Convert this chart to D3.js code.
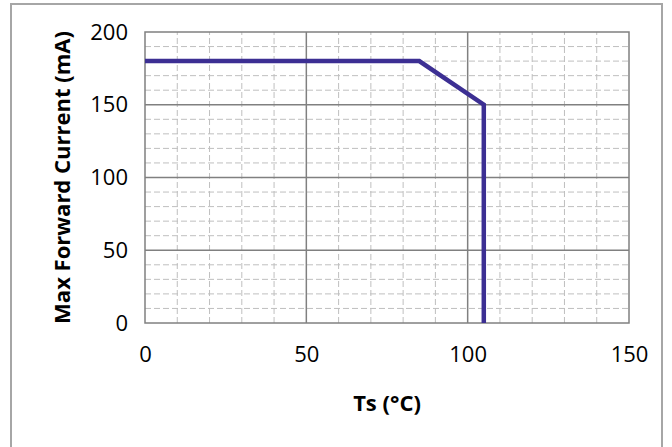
<!DOCTYPE html>
<html>
<head>
<meta charset="utf-8">
<script src="https://cdn.jsdelivr.net/npm/d3@7"></script>
<style>
  body { margin: 0; background: #fff; }
  svg text { font-family: "Open Sans", "Noto Sans", sans-serif; fill: #000; }
</style>
</head>
<body>
<script>
// derating curve: temperature vs max current
const tempValues = [0, 85, 105, 105];
const currentValues = [180, 180, 150, 0];
const xTickValues = [0, 50, 100, 150];
const yTickValues = [0, 50, 100, 150, 200];

const width = 672;
const height = 447;
const margin = {left: 145, right: 43, top: 32, bottom: 124};

let svg = d3.select("body").append("svg")
    .attr("width", width)
    .attr("height", height);

// outer chart border (bottom runs off the picture)
svg.append("rect")
    .attr("x", 11).attr("y", 4)
    .attr("width", 651).attr("height", 460)
    .attr("fill", "none")
    .attr("stroke", "#a6a6a6")
    .attr("stroke-width", 2);

const x = d3.scaleLinear().domain([0, 150]).range([margin.left, width - margin.right]);
const y = d3.scaleLinear().domain([0, 200]).range([height - margin.bottom, margin.top]);

// minor dashed grid
const minorX = d3.range(10, 150, 10).filter(d => d % 50 !== 0);
const minorY = d3.range(10, 200, 10).filter(d => d % 50 !== 0);

svg.append("g").selectAll("line")
    .data(minorX).enter().append("line")
    .attr("x1", d => x(d)).attr("x2", d => x(d))
    .attr("y1", y(0)).attr("y2", y(200))
    .attr("stroke", "#bfbfbf").attr("stroke-dasharray", "6,3");

svg.append("g").selectAll("line")
    .data(minorY).enter().append("line")
    .attr("x1", x(0)).attr("x2", x(150))
    .attr("y1", d => y(d)).attr("y2", d => y(d))
    .attr("stroke", "#bfbfbf").attr("stroke-dasharray", "6,3");

// major grid
svg.append("g").selectAll("line")
    .data(xTickValues.slice(1, -1)).enter().append("line")
    .attr("x1", d => x(d)).attr("x2", d => x(d))
    .attr("y1", y(0)).attr("y2", y(200))
    .attr("stroke", "#808080").attr("stroke-width", 1.5);

svg.append("g").selectAll("line")
    .data(yTickValues.slice(1, -1)).enter().append("line")
    .attr("x1", x(0)).attr("x2", x(150))
    .attr("y1", d => y(d)).attr("y2", d => y(d))
    .attr("stroke", "#808080").attr("stroke-width", 1.5);

svg.append("rect")
    .attr("x", x(0)).attr("y", y(200))
    .attr("width", x(150) - x(0)).attr("height", y(0) - y(200))
    .attr("fill", "none").attr("stroke", "#808080").attr("stroke-width", 1.5);

// axes, labels only
const xAxis = svg.append("g")
    .attr("transform", `translate(0,${y(0)})`)
    .call(d3.axisBottom(x).tickValues(xTickValues).tickSize(0).tickPadding(23));
const yAxis = svg.append("g")
    .attr("transform", `translate(${x(0)},0)`)
    .call(d3.axisLeft(y).tickValues(yTickValues).tickSize(0).tickPadding(17));
[xAxis, yAxis].forEach(a => {
    a.select(".domain").remove();
    a.selectAll("text").style("font-size", "22px").attr("fill", "#000");
});

// the curve
const line = d3.line()
    .x((d, i) => x(tempValues[i]))
    .y(d => y(d));

svg.append("path")
    .datum(currentValues)
    .attr("d", line)
    .attr("fill", "none")
    .attr("stroke", "#3c2f93")
    .attr("stroke-width", 4.5)
    .attr("stroke-linejoin", "miter");

// axis titles
svg.append("text")
    .attr("x", (x(0) + x(150)) / 2)
    .attr("y", 411)
    .attr("text-anchor", "middle")
    .style("font-size", "22px")
    .style("font-weight", "bold")
    .text("Ts (°C)");

svg.append("text")
    .attr("transform", `translate(70,${(y(0) + y(200)) / 2}) rotate(-90)`)
    .attr("text-anchor", "middle")
    .style("font-size", "22px")
    .style("font-weight", "bold")
    .text("Max Forward Current (mA)");
</script>
</body>
</html>
